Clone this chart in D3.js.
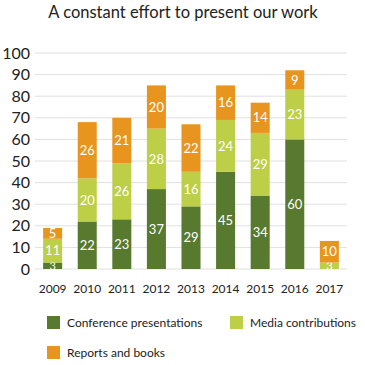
<!DOCTYPE html>
<html>
<head>
<meta charset="utf-8">
<script src="https://cdn.jsdelivr.net/npm/d3@7"></script>
<style>
  body { margin: 0; background: #fff; }
  text { font-family: Lato, "Open Sans", sans-serif; }
</style>
</head>
<body>
<div id="chart"></div>
<script>
const years = ["2009", "2010", "2011", "2012", "2013", "2014", "2015", "2016", "2017"];
const conference = [3, 22, 23, 37, 29, 45, 34, 60, 0];
const media = [11, 20, 26, 28, 16, 24, 29, 23, 3];
const reports = [5, 26, 21, 20, 22, 16, 14, 9, 10];
const seriesNames = ["Conference presentations", "Media contributions", "Reports and books"];
const yTicks = [0, 10, 20, 30, 40, 50, 60, 70, 80, 90, 100];

const colors = ["#587a2e", "#bccf47", "#e8951f"];
const width = 365, height = 365;
const marginLeft = 35, marginRight = 18, marginTop = 53, bottomY = 269;

const table = years.map((y, i) => ({
  year: y,
  [seriesNames[0]]: conference[i],
  [seriesNames[1]]: media[i],
  [seriesNames[2]]: reports[i]
}));
const stack = d3.stack().keys(seriesNames)(table);

const x = d3.scaleBand()
  .domain(years)
  .range([marginLeft, width - marginRight])
  .paddingInner(0.45)
  .paddingOuter(0.235);

const y = d3.scaleLinear()
  .domain([0, 100])
  .range([bottomY, marginTop]);

const svg = d3.select("#chart")
  .append("svg")
  .attr("width", width)
  .attr("height", height);

// titre
svg.append("text")
  .attr("x", 183)
  .attr("y", 18)
  .attr("text-anchor", "middle")
  .attr("font-size", "16.5px")
  .attr("fill", "#222")
  .text("A constant effort to present our work");

// grille + axe y
svg.append("g")
  .selectAll("line")
  .data(yTicks)
  .join("line")
  .attr("x1", marginLeft)
  .attr("x2", width - marginRight)
  .attr("y1", d => y(d))
  .attr("y2", d => y(d))
  .attr("stroke", "#e0e0e0")
  .attr("stroke-width", 1);

svg.append("g")
  .selectAll("text")
  .data(yTicks)
  .join("text")
  .attr("x", 30)
  .attr("y", d => y(d))
  .attr("dy", "0.35em")
  .attr("text-anchor", "end")
  .attr("font-size", "16px")
  .attr("fill", "#222")
  .text(d => d);

// barres
const groups = svg.append("g")
  .selectAll("g")
  .data(stack)
  .join("g")
  .attr("fill", (d, i) => colors[i]);

groups.selectAll("rect")
  .data(d => d)
  .join("rect")
  .attr("x", d => x(d.data.year))
  .attr("y", d => y(d[1]))
  .attr("height", d => y(d[0]) - y(d[1]))
  .attr("width", x.bandwidth());

groups.selectAll("text")
  .data(d => d.filter(p => p[1] - p[0] > 0))
  .join("text")
  .attr("x", d => x(d.data.year) + x.bandwidth() / 2)
  .attr("y", d => y((d[0] + d[1]) / 2))
  .attr("dy", "0.36em")
  .attr("text-anchor", "middle")
  .attr("font-size", d => (d[1] - d[0]) < 5 ? "11px" : "13px")
  .attr("fill", "#fff")
  .text(d => d[1] - d[0]);

// axe x
svg.append("g")
  .selectAll("text")
  .data(years)
  .join("text")
  .attr("x", d => x(d) + x.bandwidth() / 2)
  .attr("y", 293)
  .attr("text-anchor", "middle")
  .attr("font-size", "12px")
  .attr("fill", "#222")
  .text(d => d);

// légende
const legendPos = [[47, 323], [230, 323], [47, 353]];
const legend = svg.append("g")
  .selectAll("g")
  .data(seriesNames)
  .join("g")
  .attr("transform", (d, i) => `translate(${legendPos[i][0]},${legendPos[i][1]})`);

legend.append("rect")
  .attr("x", 0)
  .attr("y", -7)
  .attr("width", 13)
  .attr("height", 13)
  .attr("fill", (d, i) => colors[i]);

legend.append("text")
  .attr("x", 20)
  .attr("y", 0)
  .attr("dy", "0.35em")
  .attr("font-size", "12px")
  .attr("fill", "#222")
  .text(d => d);
</script>
</body>
</html>
